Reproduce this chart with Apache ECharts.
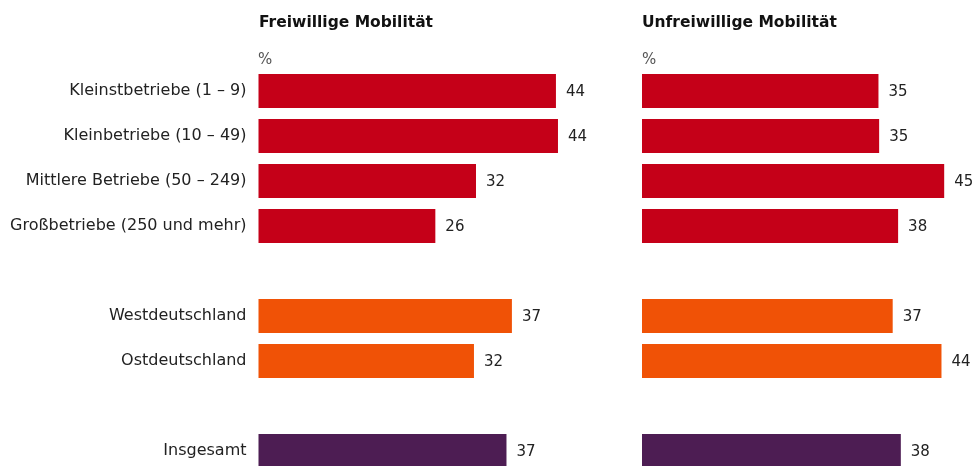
<!DOCTYPE html>
<html>
<head>
<meta charset="utf-8">
<script src="https://cdn.jsdelivr.net/npm/echarts@6/dist/echarts.min.js"></script>
<style>
  html, body { margin: 0; padding: 0; background: #fff; overflow: hidden; }
  /* a bit taller than the window: the last bar runs off the bottom edge */
  #chart { width: 974px; height: 476px; }
</style>
</head>
<body>
<div id="chart"></div>
<script>
// categories, empty strings are the spacer rows between the groups
const categories = [
  "Kleinstbetriebe (1 – 9)",
  "Kleinbetriebe (10 – 49)",
  "Mittlere Betriebe (50 – 249)",
  "Großbetriebe (250 und mehr)",
  "",
  "Westdeutschland",
  "Ostdeutschland",
  "",
  "Insgesamt",
];
const groups = ["size", "size", "size", "size", null, "region", "region", null, "total"];

// % values (labels are printed rounded)
const freiwillig = [43.9, 44.2, 32.1, 26.1, null, 37.4, 31.8, null, 36.6];
const unfreiwillig = [34.9, 35.0, 44.6, 37.8, null, 37.0, 44.2, null, 38.2];

const panelTitles = ["Freiwillige Mobilität", "Unfreiwillige Mobilität"];

const groupColors = { size: "#c50018", region: "#f05206", total: "#4d1d53" };
const font = "'DejaVu Sans', Verdana, sans-serif";

const chart = echarts.init(document.getElementById("chart"));

const toData = (vals) =>
  vals.map((v, i) =>
    v == null ? "-" : { value: v, itemStyle: { color: groupColors[groups[i]] } }
  );

const makeSeries = (vals, idx) => ({
  type: "bar",
  xAxisIndex: idx,
  yAxisIndex: idx,
  data: toData(vals),
  barCategoryGap: "24%",
  animation: false,
  label: {
    show: true,
    position: "right",
    distance: 10,
    offset: [0, 1.5],
    color: "#222",
    fontSize: 15,
    fontFamily: font,
    formatter: (p) => Math.round(p.value),
  },
});

const grids = [
  { left: 258.5, top: 68.5, width: 332, height: 405 },
  { left: 642, top: 68.5, width: 332, height: 405 },
];

const titleStyle = { fontSize: 15.5, fontWeight: "bold", color: "#111", fontFamily: font };
const pctStyle = { fontSize: 15, fontWeight: "normal", color: "#555", fontFamily: font };

const option = {
  backgroundColor: "#fff",
  title: [
    { text: panelTitles[0], left: 259, top: 15, padding: 0, textStyle: titleStyle },
    { text: panelTitles[1], left: 642, top: 15, padding: 0, textStyle: titleStyle },
    { text: "%", left: 258, top: 53, padding: 0, textStyle: pctStyle },
    { text: "%", left: 642, top: 53, padding: 0, textStyle: pctStyle },
  ],
  grid: grids,
  xAxis: grids.map((g, i) => ({
    type: "value",
    gridIndex: i,
    min: 0,
    max: 49,
    show: false,
  })),
  yAxis: grids.map((g, i) => ({
    type: "category",
    gridIndex: i,
    inverse: true,
    data: categories,
    axisLine: { show: false },
    axisTick: { show: false },
    axisLabel: {
      show: i === 0,
      margin: 12,
      color: "#222",
      fontSize: 16,
      fontFamily: font,
    },
  })),
  series: [makeSeries(freiwillig, 0), makeSeries(unfreiwillig, 1)],
};

chart.setOption(option);
</script>
</body>
</html>
